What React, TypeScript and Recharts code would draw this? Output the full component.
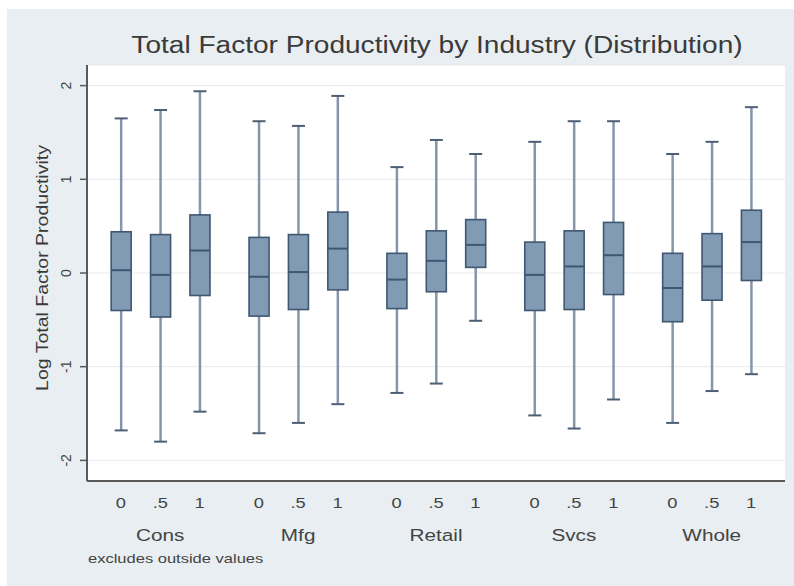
import React from 'react';
import { ComposedChart, Bar, XAxis, YAxis, CartesianGrid } from 'recharts';

const industries = ['Cons', 'Mfg', 'Retail', 'Svcs', 'Whole'];
const subLabels = ['0', '.5', '1'];

// five-number summaries, one entry per box (industry x sub-group)
const upperWhisker = [1.65, 1.74, 1.94, 1.62, 1.57, 1.89, 1.13, 1.42, 1.27, 1.40, 1.62, 1.62, 1.27, 1.40, 1.77];
const upperQuartile = [0.44, 0.41, 0.62, 0.38, 0.41, 0.65, 0.21, 0.45, 0.57, 0.33, 0.45, 0.54, 0.21, 0.42, 0.67];
const medians = [0.03, -0.02, 0.24, -0.04, 0.01, 0.26, -0.07, 0.13, 0.30, -0.02, 0.07, 0.19, -0.16, 0.07, 0.33];
const lowerQuartile = [-0.40, -0.47, -0.24, -0.46, -0.39, -0.18, -0.38, -0.20, 0.06, -0.40, -0.39, -0.23, -0.52, -0.29, -0.08];
const lowerWhisker = [-1.68, -1.80, -1.48, -1.71, -1.60, -1.40, -1.28, -1.18, -0.51, -1.52, -1.66, -1.35, -1.60, -1.26, -1.08];

const yTicks = [-2, -1, 0, 1, 2];

// boxes sit one unit apart inside a group, groups are spaced 3.5 units
const rows = medians.map((med, i) => {
  const g = Math.floor(i / 3);
  const s = i % 3;
  return {
    pos: g * 3.5 + s,
    group: industries[g],
    sub: subLabels[s],
    lo: lowerWhisker[i],
    q1: lowerQuartile[i],
    med,
    q3: upperQuartile[i],
    hi: upperWhisker[i],
    range: [lowerWhisker[i], upperWhisker[i]],
  };
});
const positions = rows.map(r => r.pos);

const FONT = '"Liberation Sans", Arial, Helvetica, sans-serif';
const TEXT = '#444';
const BOX_FILL = '#829bb5';
const BOX_LINE = '#3f5770';
const WHISKER = '#8595aa';
const WIDE = 1.22; // the Helvetica-style lettering runs wide

function BoxShape(props: any) {
  const { x, y, width, height, payload } = props;
  if (!payload) return null;
  const top = Math.min(y, y + height);
  const bot = Math.max(y, y + height);
  const { lo, hi, q1, q3, med } = payload;
  const py = (v: number) => top + ((hi - v) / (hi - lo)) * (bot - top);
  const cx = x + width / 2;
  const cap = 6.5;
  return (
    <g>
      <line x1={cx} x2={cx} y1={top} y2={bot} stroke={WHISKER} strokeWidth={2.5} />
      <line x1={cx - cap} x2={cx + cap} y1={top} y2={top} stroke="#4d5f74" strokeWidth={2} />
      <line x1={cx - cap} x2={cx + cap} y1={bot} y2={bot} stroke="#4d5f74" strokeWidth={2} />
      <rect x={x} y={py(q3)} width={width} height={py(q1) - py(q3)} fill={BOX_FILL} stroke={BOX_LINE} strokeWidth={1.6} />
      <line x1={x} x2={x + width} y1={py(med)} y2={py(med)} stroke={BOX_LINE} strokeWidth={2} />
    </g>
  );
}

function WideText({ x, y, size, children }: any) {
  return (
    <g transform={`translate(${x} ${y}) scale(${WIDE} 1)`}>
      <text x={0} y={0} textAnchor="middle" dominantBaseline="central" fontSize={size} fill={TEXT} fontFamily={FONT}>
        {children}
      </text>
    </g>
  );
}

function XTick(props: any) {
  const { x, y, payload } = props;
  const i = positions.indexOf(payload.value);
  if (i < 0) return null;
  const r = rows[i];
  return (
    <g>
      <WideText x={x} y={y + 20} size={15}>{r.sub}</WideText>
      {i % 3 === 1 && <WideText x={x} y={y + 52} size={17}>{r.group}</WideText>}
    </g>
  );
}

function YTick(props: any) {
  const { y, payload } = props;
  const bx = 71;
  return (
    <text x={bx} y={y} transform={`rotate(-90 ${bx} ${y})`} textAnchor="middle" fontSize={14} fill={TEXT} fontFamily={FONT}>
      {payload.value}
    </text>
  );
}

export default function App() {
  return (
    <div style={{ position: 'absolute', left: 0, top: 0, width: 794, height: 586, background: '#fff', fontFamily: FONT, overflow: 'hidden' }}>
      <div style={{ position: 'absolute', left: 7, top: 9, right: 0, bottom: 0, background: '#e8eef1' }} />
      <div style={{ position: 'absolute', left: 0, top: 0 }}>
        <ComposedChart width={794} height={586} data={rows} margin={{ top: 65, right: 9, bottom: 35, left: 47 }}>
          <CartesianGrid vertical={false} stroke="#e6eaee" fill="#ffffff" />
          <XAxis
            dataKey="pos"
            type="number"
            domain={[-0.86, 16.86]}
            allowDataOverflow
            ticks={positions}
            interval={0}
            tick={<XTick />}
            tickLine={false}
            tickSize={0}
            height={70}
            axisLine={{ stroke: '#5a5a5a', strokeWidth: 2 }}
          />
          <YAxis
            type="number"
            domain={[-2.22, 2.22]}
            allowDataOverflow
            ticks={yTicks}
            width={40}
            tick={<YTick />}
            tickSize={7}
            tickLine={{ stroke: '#5a5a5a', strokeWidth: 1.5 }}
            axisLine={{ stroke: '#5a5a5a', strokeWidth: 2 }}
          />
          <Bar dataKey="range" barSize={20} shape={<BoxShape />} isAnimationActive={false} />
        </ComposedChart>
      </div>
      <div
        style={{
          position: 'absolute',
          left: 437,
          top: 45,
          transform: `translate(-50%, -50%) scaleX(${WIDE})`,
          fontSize: 23,
          color: '#3a3a3a',
          whiteSpace: 'nowrap',
        }}
      >
        Total Factor Productivity by Industry (Distribution)
      </div>
      <div
        style={{
          position: 'absolute',
          left: 43,
          top: 268,
          transform: `translate(-50%, -50%) rotate(-90deg) scaleX(${WIDE})`,
          fontSize: 16,
          color: '#3a3a3a',
          whiteSpace: 'nowrap',
        }}
      >
        Log Total Factor Productivity
      </div>
      <div
        style={{
          position: 'absolute',
          left: 88,
          top: 551,
          transformOrigin: 'left center',
          transform: `scaleX(${WIDE + 0.05})`,
          fontSize: 13,
          color: TEXT,
          whiteSpace: 'nowrap',
        }}
      >
        excludes outside values
      </div>
    </div>
  );
}
